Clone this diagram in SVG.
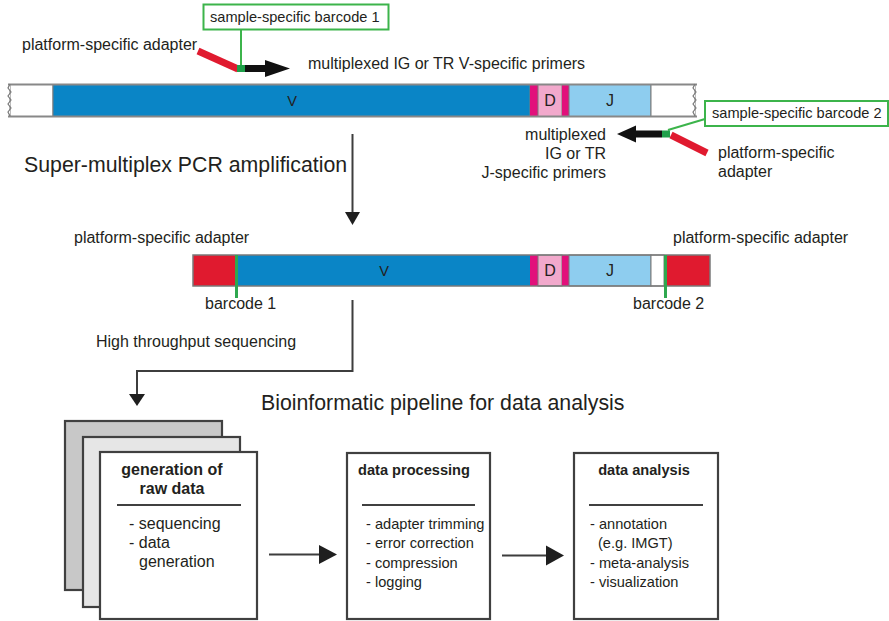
<svg xmlns="http://www.w3.org/2000/svg" width="889" height="621" viewBox="0 0 889 621">
  <style>
    text { font-family: "Liberation Sans", Arial, Helvetica, sans-serif; fill: #231f20; }
    .t16 { font-size: 16px; }
    .t14 { font-size: 14.6px; }
    .big { font-size: 21.3px; }
    .b16 { font-size: 16px; font-weight: bold; }
    .b14 { font-size: 14.6px; font-weight: bold; }
    .seg { stroke: #7a7a7a; stroke-width: 1; }
    .v { fill: #0a85c6; }
    .j { fill: #8ecdef; }
    .d { fill: #f2a9cc; }
    .m { fill: #e2107b; }
    .red { fill: #e01a2f; }
    .wht { fill: #ffffff; }
    .barcode { stroke: #3cb44b; stroke-width: 2; fill: #ffffff; }
    .flow { stroke: #3d3d3d; stroke-width: 2; fill: none; }
    .head { fill: #1f1f1f; }
    .card { stroke: #404040; stroke-width: 2.2; }
    .rule { stroke: #404040; stroke-width: 2.2; }
  </style>

  <!-- Germline-like template with primers -->
  <g id="template">
    <rect class="wht seg" x="10" y="84.5" width="43" height="32"/>
    <rect class="v seg" x="53" y="84.5" width="477" height="32"/>
    <rect class="m" x="530" y="84.5" width="8" height="32"/>
    <rect class="d seg" x="538" y="84.5" width="24" height="32"/>
    <rect class="m" x="562" y="84.5" width="7" height="32"/>
    <rect class="j seg" x="569" y="84.5" width="82" height="32"/>
    <rect class="wht seg" x="651" y="84.5" width="44" height="32"/>
    <line x1="8" y1="84.5" x2="697" y2="84.5" stroke="#888" stroke-width="2"/>
    <line x1="8" y1="116.5" x2="697" y2="116.5" stroke="#888" stroke-width="2"/>
    <polyline points="10,84 8,88 11,92 8,96 11,100 8,104 11,108 8,112 10,116" fill="#fff" stroke="#777" stroke-width="1.2"/>
    <polyline points="695,84 693,88 696,92 693,96 696,100 693,104 696,108 693,112 695,116" fill="#fff" stroke="#777" stroke-width="1.2"/>
    <text class="t14" x="292" y="106" text-anchor="middle">V</text>
    <text class="t16" x="550" y="106" text-anchor="middle">D</text>
    <text class="t16" x="610" y="106" text-anchor="middle">J</text>
  </g>

  <g id="v-primer">
    <line x1="198" y1="51" x2="238" y2="69" stroke="#e01a2f" stroke-width="7"/>
    <line x1="241" y1="29" x2="241" y2="66" stroke="#3cb44b" stroke-width="2"/>
    <rect x="237" y="65" width="8" height="7" fill="#1fa04a"/>
    <rect x="245" y="65" width="22" height="7" fill="#111"/>
    <polygon points="265,60 290,68.5 265,77" fill="#111"/>
    <rect class="barcode" x="203.5" y="4.5" width="185" height="25"/>
    <text class="t14" x="210" y="22">sample-specific barcode 1</text>
    <text class="t16" x="22" y="50">platform-specific adapter</text>
    <text class="t16" x="308" y="69">multiplexed IG or TR V-specific primers</text>
  </g>

  <g id="j-primer">
    <line x1="705" y1="119" x2="668" y2="130" stroke="#3cb44b" stroke-width="2"/>
    <line x1="671" y1="135" x2="707" y2="153" stroke="#e01a2f" stroke-width="7"/>
    <rect x="662" y="130.5" width="8" height="7" fill="#1fa04a"/>
    <rect x="634" y="130.5" width="28" height="7" fill="#111"/>
    <polygon points="636,125.5 617,134 636,142.5" fill="#111"/>
    <rect class="barcode" x="705" y="101" width="183" height="25"/>
    <text class="t14" x="712" y="118">sample-specific barcode 2</text>
    <text class="t16" x="606" y="140" text-anchor="end">multiplexed</text>
    <text class="t16" x="606" y="159" text-anchor="end">IG or TR</text>
    <text class="t16" x="606" y="178" text-anchor="end">J-specific primers</text>
    <text class="t16" x="718" y="158">platform-specific</text>
    <text class="t16" x="718" y="177">adapter</text>
  </g>

  <text id="pcr-label" class="big" x="24" y="172">Super-multiplex PCR amplification</text>

  <!-- Amplicon with adapters and barcodes -->
  <g id="amplicon">
    <rect class="red" x="193" y="255" width="42" height="31"/>
    <rect class="v" x="238" y="255" width="292" height="31"/>
    <rect class="m" x="530" y="255" width="8" height="31"/>
    <rect class="d seg" x="538" y="255" width="24" height="31"/>
    <rect class="m" x="562" y="255" width="7" height="31"/>
    <rect class="j seg" x="569" y="255" width="82" height="31"/>
    <rect class="wht seg" x="651" y="255" width="13" height="31"/>
    <rect class="red" x="667" y="255" width="43" height="31"/>
    <rect x="193" y="255" width="517" height="31" fill="none" stroke="#7a7a7a" stroke-width="1.5"/>
    <line x1="236.5" y1="255" x2="236.5" y2="298" stroke="#2fa84f" stroke-width="3"/>
    <line x1="665.5" y1="255" x2="665.5" y2="298" stroke="#2fa84f" stroke-width="3"/>
    <text class="t14" x="384" y="276" text-anchor="middle">V</text>
    <text class="t16" x="550" y="276" text-anchor="middle">D</text>
    <text class="t16" x="610" y="276" text-anchor="middle">J</text>
    <text class="t16" x="74" y="243">platform-specific adapter</text>
    <text class="t16" x="673" y="243">platform-specific adapter</text>
    <text class="t16" x="205" y="309">barcode 1</text>
    <text class="t16" x="633" y="309">barcode 2</text>
  </g>

  <text id="seq-label" class="t16" x="96" y="347">High throughput sequencing</text>
  <text id="pipeline-title" class="big" x="261" y="410">Bioinformatic pipeline for data analysis</text>

  <!-- Connectors -->
  <g id="connectors">
    <line class="flow" x1="352.5" y1="134" x2="352.5" y2="214"/>
    <polygon class="head" points="345,212 360,212 352.5,225"/>
    <polyline class="flow" points="352.5,300 352.5,371 137,371 137,396"/>
    <polygon class="head" points="129,394 145,394 137,406"/>
    <line class="flow" x1="269" y1="554.5" x2="321" y2="554.5"/>
    <polygon class="head" points="319,545 337,554.5 319,564"/>
    <line class="flow" x1="502" y1="555.5" x2="549" y2="555.5"/>
    <polygon class="head" points="546,545.5 564,555.5 546,565.5"/>
  </g>

  <g id="raw-data">
    <rect class="card" x="65" y="421" width="157" height="169" fill="#c8c8c8"/>
    <rect class="card" x="83" y="437" width="157" height="170" fill="#e6e6e6"/>
    <rect class="card" x="100" y="452" width="157" height="167" fill="#ffffff"/>
    <text class="b16" x="172" y="475" text-anchor="middle">generation of</text>
    <text class="b16" x="172" y="494" text-anchor="middle">raw data</text>
    <line class="rule" x1="117" y1="505" x2="241" y2="505"/>
    <text class="t16" x="129" y="529">- sequencing</text>
    <text class="t16" x="129" y="548">- data</text>
    <text class="t16" x="139" y="567">generation</text>
  </g>

  <g id="data-processing">
    <rect class="card" x="347" y="453" width="143" height="166" fill="#ffffff"/>
    <text class="b14" x="358" y="475">data processing</text>
    <line class="rule" x1="362" y1="505" x2="475" y2="505"/>
    <text class="t14" x="366" y="529">- adapter trimming</text>
    <text class="t14" x="366" y="548">- error correction</text>
    <text class="t14" x="366" y="568">- compression</text>
    <text class="t14" x="366" y="587">- logging</text>
  </g>

  <g id="data-analysis">
    <rect class="card" x="574" y="453" width="144" height="166" fill="#ffffff"/>
    <text class="b14" x="644" y="475" text-anchor="middle">data analysis</text>
    <line class="rule" x1="589" y1="505" x2="703" y2="505"/>
    <text class="t14" x="590" y="529">- annotation</text>
    <text class="t14" x="598" y="548">(e.g. IMGT)</text>
    <text class="t14" x="590" y="568">- meta-analysis</text>
    <text class="t14" x="590" y="587">- visualization</text>
  </g>
</svg>
